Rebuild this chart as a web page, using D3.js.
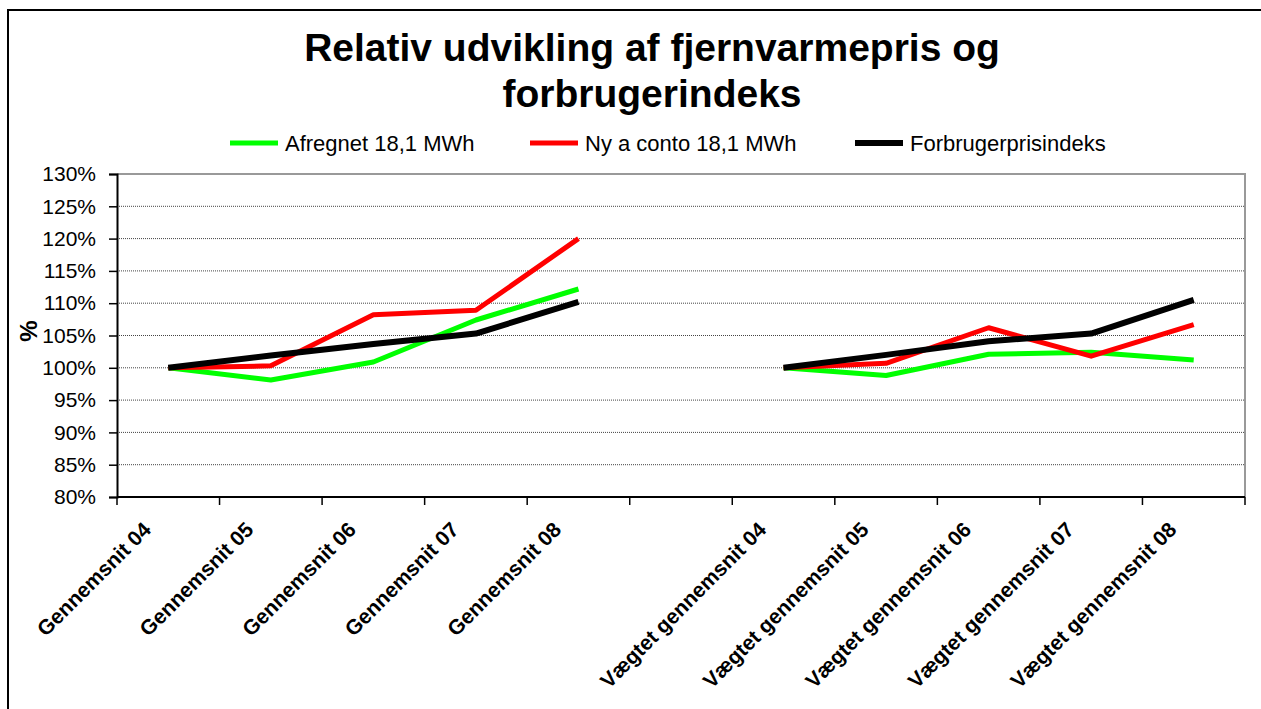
<!DOCTYPE html>
<html>
<head>
<meta charset="utf-8">
<script src="https://cdn.jsdelivr.net/npm/d3@7"></script>
<style>
  body { margin: 0; background: #fff; }
  svg { display: block; font-family: Arial, "Liberation Sans", sans-serif; }
  .grid line { stroke: #444; stroke-dasharray: 1,1; }
</style>
</head>
<body>
<div id="chart"></div>
<script>
// chart data
var categories = [
    'Gennemsnit 04', 'Gennemsnit 05', 'Gennemsnit 06', 'Gennemsnit 07', 'Gennemsnit 08',
    '',
    'Vægtet gennemsnit 04', 'Vægtet gennemsnit 05', 'Vægtet gennemsnit 06',
    'Vægtet gennemsnit 07', 'Vægtet gennemsnit 08'
];
var afregnet   = [100, 98.1, 100.9, 107.4, 112.2, null, 100, 98.8, 102.1, 102.4, 101.2];
var nyAconto   = [100, 100.3, 108.2, 108.9, 120.0, null, 100, 100.7, 106.2, 101.8, 106.7];
var forbruger  = [100, 101.9, 103.7, 105.3, 110.2, null, 100, 102.0, 104.1, 105.3, 110.5];
var seriesNames = ['Afregnet 18,1 MWh', 'Ny a conto 18,1 MWh', 'Forbrugerprisindeks'];
var yTicks = [80, 85, 90, 95, 100, 105, 110, 115, 120, 125, 130];

var series = [
    {name: seriesNames[0], values: afregnet, color: '#00ff00', width: 5},
    {name: seriesNames[1], values: nyAconto, color: '#ff0000', width: 5},
    {name: seriesNames[2], values: forbruger, color: '#000000', width: 6}
];

var W = 1261, H = 709;
var margin = {top: 174, right: 16, bottom: 212, left: 117};
var innerW = W - margin.left - margin.right,
    innerH = H - margin.top - margin.bottom;

var svg = d3.select('#chart').append('svg')
    .attr('width', W)
    .attr('height', H);

// outer chart frame (runs off the right and bottom edge like the original)
svg.append('rect')
    .attr('x', 8).attr('y', 10)
    .attr('width', 1300).attr('height', 760)
    .attr('fill', 'none')
    .attr('stroke', '#000')
    .attr('stroke-width', 2);

// title
var title = svg.append('text')
    .attr('text-anchor', 'middle')
    .style('font-size', '39px')
    .style('font-weight', 'bold');
title.append('tspan').attr('x', 652).attr('y', 61).text('Relativ udvikling af fjernvarmepris og');
title.append('tspan').attr('x', 652).attr('y', 107).text('forbrugerindeks');

// legend
var legendX = [230, 530, 855];
var legend = svg.selectAll('.legend')
    .data(series)
    .enter().append('g')
    .attr('class', 'legend')
    .attr('transform', function(d, i) { return 'translate(' + legendX[i] + ',143)'; });
legend.append('line')
    .attr('x1', 0).attr('x2', 48)
    .attr('stroke', function(d) { return d.color; })
    .attr('stroke-width', function(d) { return d.width; });
legend.append('text')
    .attr('x', 55).attr('y', 8)
    .style('font-size', '22px')
    .text(function(d) { return d.name; });

var g = svg.append('g')
    .attr('transform', 'translate(' + margin.left + ',' + margin.top + ')');

var x = d3.scaleBand()
    .domain(d3.range(categories.length))
    .range([0, innerW]);

var y = d3.scaleLinear()
    .domain([80, 130])
    .range([innerH, 0]);

// gridlines
g.append('g')
    .attr('class', 'grid')
    .selectAll('line')
    .data(yTicks.slice(1, -1))
    .enter().append('line')
    .attr('x1', 0).attr('x2', innerW)
    .attr('y1', function(d) { return y(d); })
    .attr('y2', function(d) { return y(d); });

// plot area border (top + right in gray)
g.append('path')
    .attr('d', 'M0,' + y(130) + 'H' + innerW + 'V' + innerH)
    .attr('fill', 'none')
    .attr('stroke', '#999')
    .attr('stroke-width', 2);

// y axis
var yAxis = g.append('g')
    .call(d3.axisLeft(y).tickValues(yTicks).tickSize(8).tickPadding(13)
        .tickFormat(function(d) { return d + '%'; }));
yAxis.select('.domain').attr('stroke-width', 2);
yAxis.selectAll('.tick line').attr('stroke-width', 1.5);
yAxis.selectAll('text')
    .style('font-size', '21px')
    .style('font-family', 'Arial, "Liberation Sans", sans-serif')
    .attr('fill', '#000');

svg.append('text')
    .attr('transform', 'translate(37,331) rotate(-90)')
    .attr('text-anchor', 'middle')
    .style('font-size', '24px')
    .style('font-weight', 'bold')
    .text('%');

// x axis: ticks at band boundaries
var xAxisG = g.append('g').attr('transform', 'translate(0,' + innerH + ')');
xAxisG.append('line')
    .attr('x1', 0).attr('x2', innerW)
    .attr('stroke', '#000').attr('stroke-width', 2);
var bounds = d3.range(categories.length).map(function(i) { return x(i); }).concat([innerW]);
xAxisG.selectAll('.xtick')
    .data(bounds)
    .enter().append('line')
    .attr('x1', function(d) { return d; })
    .attr('x2', function(d) { return d; })
    .attr('y1', 0).attr('y2', 8)
    .attr('stroke', '#000').attr('stroke-width', 1.5);

xAxisG.selectAll('.xlabel')
    .data(categories)
    .enter().append('text')
    .attr('transform', function(d, i) {
        return 'translate(' + (x(i) + x.bandwidth() / 2 - 16) + ',34) rotate(-45)';
    })
    .attr('text-anchor', 'end')
    .style('font-size', '21px')
    .style('font-weight', 'bold')
    .text(function(d) { return d; });

// lines
var line = d3.line()
    .defined(function(d) { return d != null; })
    .x(function(d, i) { return x(i) + x.bandwidth() / 2; })
    .y(function(d) { return y(d); });

g.selectAll('.series')
    .data(series)
    .enter().append('path')
    .attr('class', 'series')
    .attr('fill', 'none')
    .attr('stroke', function(d) { return d.color; })
    .attr('stroke-width', function(d) { return d.width; })
    .attr('stroke-linejoin', 'round')
    .attr('d', function(d) { return line(d.values); });
</script>
</body>
</html>
